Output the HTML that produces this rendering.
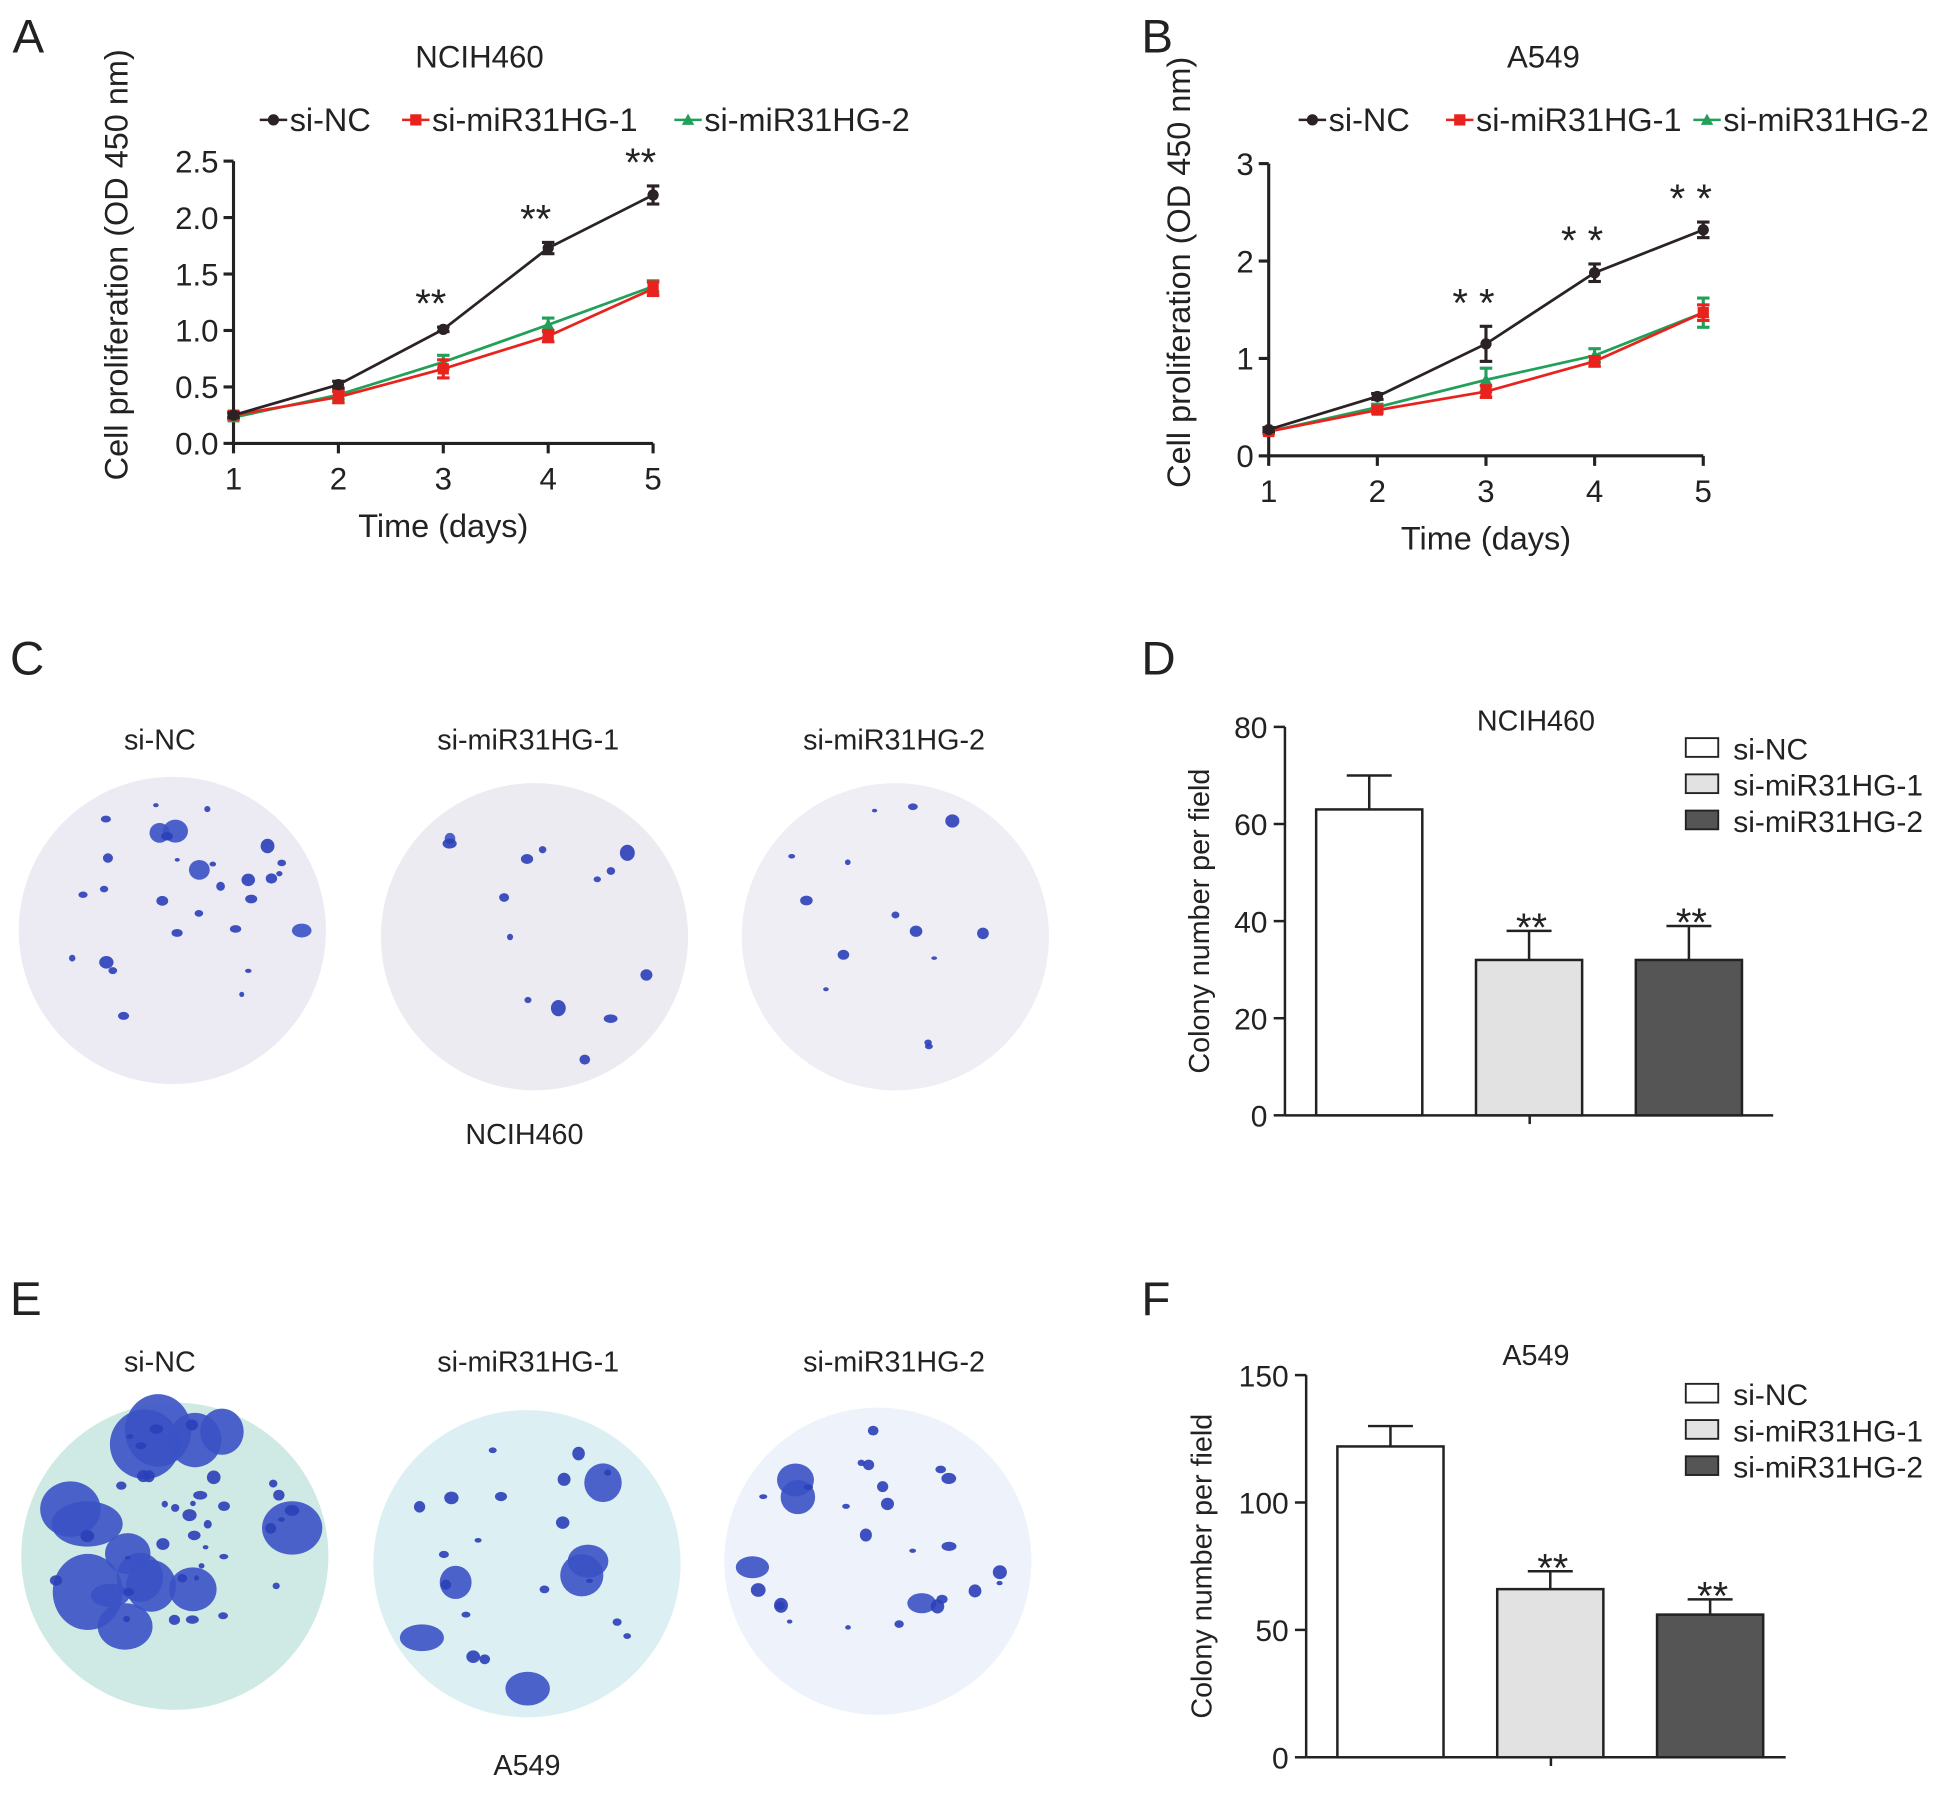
<!DOCTYPE html>
<html><head><meta charset="utf-8"><style>
html,body{margin:0;padding:0;background:#fff}
svg{display:block}
text{font-family:"Liberation Sans",Arial,sans-serif;fill:#222}
</style></head><body>
<svg id="fig" width="1958" height="1801" viewBox="0 0 1568 1442" preserveAspectRatio="none" xmlns="http://www.w3.org/2000/svg">
<g font-size="38">
<text x="10" y="42">A</text>
<text x="914" y="42">B</text>
<text x="8" y="540">C</text>
<text x="914" y="540">D</text>
<text x="8" y="1053">E</text>
<text x="914" y="1053">F</text>
</g>
<g id="dishes"></g>
<g font-size="23" text-anchor="middle">
<text x="128" y="600">si-NC</text>
<text x="423" y="600">si-miR31HG-1</text>
<text x="716" y="600">si-miR31HG-2</text>
<text x="420" y="916">NCIH460</text>
<text x="128" y="1098">si-NC</text>
<text x="423" y="1098">si-miR31HG-1</text>
<text x="716" y="1098">si-miR31HG-2</text>
<text x="422" y="1421">A549</text>
</g>
<g id="charts"></g>
</svg>
<script>
// ===== Line chart data =====
const days = [1, 2, 3, 4, 5];
const aSiNC = [0.25, 0.52, 1.01, 1.73, 2.2];
const aSiNCErr = [0.02, 0.03, 0.02, 0.05, 0.08];
const aSi1 = [0.25, 0.41, 0.66, 0.95, 1.37];
const aSi1Err = [0.03, 0.05, 0.08, 0.05, 0.06];
const aSi2 = [0.23, 0.43, 0.72, 1.05, 1.39];
const aSi2Err = [0.02, 0.04, 0.06, 0.06, 0.05];
const aTicks = ["0.0", "0.5", "1.0", "1.5", "2.0", "2.5"];
const bSiNC = [0.27, 0.61, 1.15, 1.88, 2.32];
const bSiNCErr = [0.02, 0.03, 0.18, 0.09, 0.08];
const bSi1 = [0.25, 0.47, 0.66, 0.97, 1.47];
const bSi1Err = [0.02, 0.03, 0.06, 0.05, 0.08];
const bSi2 = [0.25, 0.50, 0.78, 1.03, 1.47];
const bSi2Err = [0.02, 0.03, 0.12, 0.07, 0.15];
const bTicks = ["0", "1", "2", "3"];
// ===== Bar chart data =====
const groups = ["si-NC", "si-miR31HG-1", "si-miR31HG-2"];
const dValues = [63, 32, 32];
const dErr = [7, 6, 7];
const dTicks = ["0", "20", "40", "60", "80"];
const fValues = [122, 66, 56];
const fErr = [8, 7, 6];
const fTicks = ["0", "50", "100", "150"];

const NS = "http://www.w3.org/2000/svg";
const root = document.getElementById('charts');
function mk(tag, attrs, parent, txt) {
  const e = document.createElementNS(NS, tag);
  for (const k in attrs) e.setAttribute(k, attrs[k]);
  if (txt !== undefined) e.textContent = txt;
  (parent || root).appendChild(e);
  return e;
}

function lineChart(cfg) {
  const g = mk('g', {});
  
  
  const x = d => cfg.x0 + (d - 1) * (cfg.x1 - cfg.x0) / 4;
  const y = v => cfg.y0 - v * (cfg.y0 - cfg.yTop) / cfg.ymax;
  mk('line', {x1: cfg.x0, y1: cfg.y0, x2: cfg.x0, y2: cfg.yTop, stroke: '#222', 'stroke-width': 2.5}, g);
  mk('line', {x1: cfg.x0, y1: cfg.y0, x2: cfg.x1, y2: cfg.y0, stroke: '#222', 'stroke-width': 2.5}, g);
  cfg.ticks.forEach((t, i) => {
    const v = cfg.ymax * i / (cfg.ticks.length - 1);
    mk('line', {x1: cfg.x0 - 8, x2: cfg.x0, y1: y(v), y2: y(v), stroke: '#222', 'stroke-width': 2.5}, g);
    const tl = mk('text', {x: cfg.x0 - 12, y: y(v) + 9, 'text-anchor': 'end', 'font-size': 25}, g, t);
    
    
  });
  days.forEach(d => {
    mk('line', {x1: x(d), x2: x(d), y1: cfg.y0, y2: cfg.y0 + 8, stroke: '#222', 'stroke-width': 2.5}, g);
    const tl = mk('text', {x: x(d), y: cfg.y0 + 37, 'text-anchor': 'middle', 'font-size': 25}, g, d);
    
    
  });
  const yc = (cfg.y0 + cfg.yTop) / 2 - 30;
  const yt = mk('text', {x: cfg.ylx, y: yc, 'text-anchor': 'middle', 'font-size': 26, transform: `rotate(-90 ${cfg.ylx} ${yc})`}, g, 'Cell proliferation (OD 450 nm)');
  
  
  const xt = mk('text', {x: (cfg.x0 + cfg.x1) / 2, y: cfg.y0 + 75, 'text-anchor': 'middle', 'font-size': 26}, g, 'Time (days)');
  
  
  const tt = mk('text', {x: cfg.tx, y: 54, 'text-anchor': 'middle', 'font-size': 25}, g, cfg.title);
  
  
  const series = [
    {v: cfg.s2, e: cfg.e2, c: '#22a05a', m: 'tri', n: 'si-miR31HG-2'},
    {v: cfg.s1, e: cfg.e1, c: '#e8231d', m: 'sq', n: 'si-miR31HG-1'},
    {v: cfg.s0, e: cfg.e0, c: '#2a2224', m: 'dot', n: 'si-NC'}
  ];
  series.forEach(s => {
    const sg = mk('g', {}, g);
    
    
    mk('polyline', {points: days.map((d, i) => x(d) + ',' + y(s.v[i])).join(' '), fill: 'none', stroke: s.c, 'stroke-width': 2.2}, sg);
    days.forEach((d, i) => {
      const cx = x(d), cy = y(s.v[i]), e1 = y(s.v[i] + s.e[i]), e2 = y(s.v[i] - s.e[i]);
      mk('line', {x1: cx, x2: cx, y1: e1, y2: e2, stroke: s.c, 'stroke-width': 2.5}, sg);
      mk('line', {x1: cx - 5, x2: cx + 5, y1: e1, y2: e1, stroke: s.c, 'stroke-width': 2.5}, sg);
      mk('line', {x1: cx - 5, x2: cx + 5, y1: e2, y2: e2, stroke: s.c, 'stroke-width': 2.5}, sg);
      let p;
      if (s.m === 'dot') p = mk('circle', {cx, cy, r: 4.5, fill: s.c}, sg);
      else if (s.m === 'sq') p = mk('rect', {x: cx - 4.5, y: cy - 4.5, width: 9, height: 9, fill: s.c}, sg);
      else p = mk('polygon', {points: `${cx},${cy - 5} ${cx - 5},${cy + 4} ${cx + 5},${cy + 4}`, fill: s.c}, sg);
      
      
    });
  });
  [2, 3, 4].forEach(i => {
    const st = mk('text', {x: x(days[i]) - 10, y: y(cfg.s0[i] + cfg.e0[i]) - 8, 'text-anchor': 'middle', 'font-size': 32}, g, cfg.star);
    
    
  });
  let lx = cfg.legX;
  const items = [['si-NC', '#2a2224', 'dot'], ['si-miR31HG-1', '#e8231d', 'sq'], ['si-miR31HG-2', '#22a05a', 'tri']];
  items.forEach((it, k) => {
    const lg = mk('g', {}, g);
    
    
    mk('line', {x1: lx, x2: lx + 22, y1: 96, y2: 96, stroke: it[1], 'stroke-width': 2}, lg);
    if (it[2] === 'dot') mk('circle', {cx: lx + 11, cy: 96, r: 4.5, fill: it[1]}, lg);
    else if (it[2] === 'sq') mk('rect', {x: lx + 6.5, y: 91.5, width: 9, height: 9, fill: it[1]}, lg);
    else mk('polygon', {points: `${lx + 11},91 ${lx + 6},100 ${lx + 16},100`, fill: it[1]}, lg);
    mk('text', {x: lx + 24, y: 105, 'font-size': 26}, lg, it[0]);
    lx += cfg.legGap[k];
  });
}

lineChart({name: 'chart-a-ncih460-proliferation', x0: 187, x1: 523, y0: 355, yTop: 129, ymax: 2.5, ticks: aTicks,
  s0: aSiNC, e0: aSiNCErr, s1: aSi1, e1: aSi1Err, s2: aSi2, e2: aSi2Err, title: 'NCIH460', tx: 384, ylx: 102, legX: 208, legGap: [114, 218], star: '**'});
lineChart({name: 'chart-b-a549-proliferation', x0: 1016, x1: 1364, y0: 365, yTop: 131, ymax: 3, ticks: bTicks,
  s0: bSiNC, e0: bSiNCErr, s1: bSi1, e1: bSi1Err, s2: bSi2, e2: bSi2Err, title: 'A549', tx: 1236, ylx: 953, legX: 1040, legGap: [118, 198], star: '* *'});

function barChart(cfg) {
  const g = mk('g', {});
  
  
  const y = v => cfg.y0 - v * (cfg.y0 - cfg.yTop) / cfg.ymax;
  mk('line', {x1: cfg.x0, y1: cfg.y0, x2: cfg.x0, y2: cfg.yTop, stroke: '#222', 'stroke-width': 2}, g);
  mk('line', {x1: cfg.x0, y1: cfg.y0, x2: cfg.x1, y2: cfg.y0, stroke: '#222', 'stroke-width': 2}, g);
  mk('line', {x1: cfg.bx + 171, x2: cfg.bx + 171, y1: cfg.y0, y2: cfg.y0 + 7, stroke: '#222', 'stroke-width': 2}, g);
  cfg.ticks.forEach((t, i) => {
    const v = cfg.ymax * i / (cfg.ticks.length - 1);
    mk('line', {x1: cfg.x0 - 9, x2: cfg.x0, y1: y(v), y2: y(v), stroke: '#222', 'stroke-width': 2}, g);
    const tl = mk('text', {x: cfg.x0 - 14, y: y(v) + 9, 'text-anchor': 'end', 'font-size': 24}, g, t);
    
    
  });
  const cy = (cfg.y0 + cfg.yTop) / 2;
  const yt = mk('text', {x: cfg.ylx, y: cy, 'text-anchor': 'middle', 'font-size': 23, transform: `rotate(-90 ${cfg.ylx} ${cy})`}, g, 'Colony number per field');
  
  
  const tt = mk('text', {x: 1230, y: cfg.ty, 'text-anchor': 'middle', 'font-size': 23}, g, cfg.title);
  
  
  const fills = ['#ffffff', '#e2e2e2', '#555555'];
  const bw = 85, step = 128;
  groups.forEach((gname, i) => {
    const bx = cfg.bx + i * step;
    const b = mk('rect', {x: bx, y: y(cfg.vals[i]), width: bw, height: cfg.y0 - y(cfg.vals[i]), fill: fills[i], stroke: '#222', 'stroke-width': 2}, g);
    
    
    const top = y(cfg.vals[i] + cfg.errs[i]), mx = bx + bw / 2;
    mk('line', {x1: mx, x2: mx, y1: y(cfg.vals[i]), y2: top, stroke: '#222', 'stroke-width': 2}, g);
    mk('line', {x1: mx - 18, x2: mx + 18, y1: top, y2: top, stroke: '#222', 'stroke-width': 2}, g);
    if (i > 0) {
      const st = mk('text', {x: mx + 2, y: top + 8, 'text-anchor': 'middle', 'font-size': 32}, g, '**');
      
      
    }
    const lg = mk('g', {}, g);
    
    
    mk('rect', {x: 1350, y: cfg.legY + i * 29 - 8, width: 26, height: 15, fill: fills[i], stroke: '#222', 'stroke-width': 1.5}, lg);
    mk('text', {x: 1388, y: cfg.legY + i * 29 + 9, 'font-size': 24}, lg, gname);
  });
}
barChart({name: 'chart-d-ncih460-colonies', x0: 1029, x1: 1420, y0: 893, yTop: 582, ymax: 80, ticks: dTicks, vals: dValues, errs: dErr, bx: 1054, ylx: 968, ty: 585, title: 'NCIH460', legY: 599});
barChart({name: 'chart-f-a549-colonies', x0: 1046, x1: 1430, y0: 1407, yTop: 1101, ymax: 150, ticks: fTicks, vals: fValues, errs: fErr, bx: 1071, ylx: 970, ty: 1093, title: 'A549', legY: 1116});

// ===== Petri dishes (decorative photos) =====
const dg = document.getElementById('dishes');
const dishes = [
  {cx: 138, cy: 745, fill: '#eceaf3', n: 30, big: 4, bs: 9, name: 'dish-ncih460-si-nc'},
  {cx: 428, cy: 750, fill: '#ecebf2', n: 14, big: 1, bs: 6, name: 'dish-ncih460-si-1'},
  {cx: 717, cy: 750, fill: '#efeef5', n: 14, big: 0, bs: 6, name: 'dish-ncih460-si-2'},
  {cx: 140, cy: 1246, fill: '#cfe9e4', n: 50, big: 14, bs: 22, name: 'dish-a549-si-nc'},
  {cx: 422, cy: 1252, fill: '#dcf0f3', n: 24, big: 6, bs: 15, name: 'dish-a549-si-1'},
  {cx: 703, cy: 1250, fill: '#eef3fb', n: 28, big: 4, bs: 12, name: 'dish-a549-si-2'}
];
let seed = 7;
function rnd() { seed = (seed * 16807) % 2147483647; return seed / 2147483647; }
dishes.forEach(d => {
  const g = document.createElementNS(NS, 'g');
  
  
  dg.appendChild(g);
  mk('circle', {cx: d.cx, cy: d.cy, r: 123, fill: d.fill}, g);
  for (let i = 0; i < d.n; i++) {
    const a = rnd() * 6.283, r = Math.sqrt(rnd()) * 108;
    const big = i < d.big;
    const rr = big ? d.bs * (0.7 + rnd() * 0.6) : 2 + rnd() * 4;
    mk('ellipse', {cx: d.cx + Math.cos(a) * r, cy: d.cy + Math.sin(a) * r, rx: rr, ry: rr * (0.6 + rnd() * 0.5), fill: big ? '#3a52c4' : '#2b3fb8', opacity: 0.9}, g);
  }
});
</script>
</body></html>
